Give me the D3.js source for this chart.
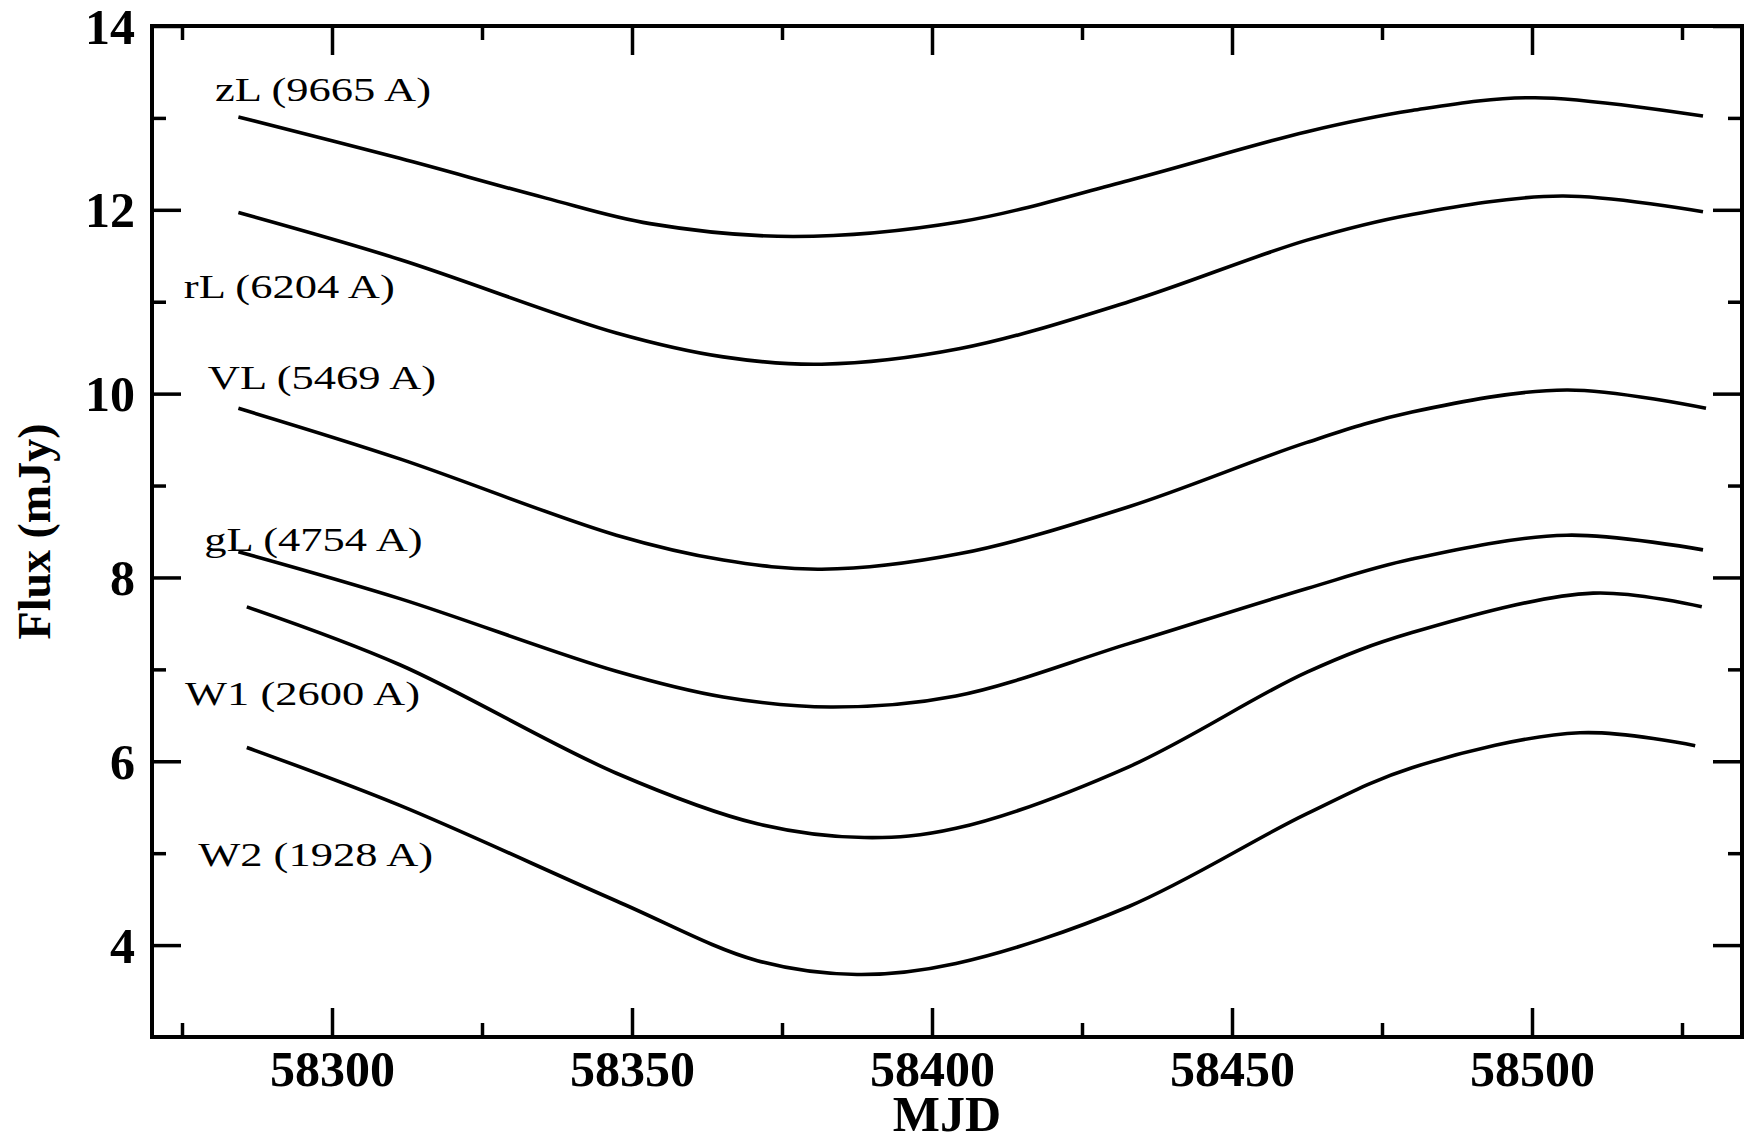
<!DOCTYPE html>
<html>
<head>
<meta charset="utf-8">
<script src="https://cdn.jsdelivr.net/npm/d3@7"></script>
<style>
  html, body { margin: 0; background: #fff; }
  svg { display: block; }
</style>
</head>
<body>
<div id="chart"></div>
<script>
// light curves (MJD, flux in mJy)
const zlMjd  = [58284.4, 58311.3, 58335.5, 58353.0, 58376.8, 58404.7, 58432.8, 58462.5, 58480.0, 58500.5, 58528.5];
const zlFlux = [13.01, 12.56, 12.13, 11.85, 11.71, 11.87, 12.32, 12.85, 13.08, 13.22, 13.02];

const rlMjd  = [58284.4, 58311.3, 58347.4, 58365.2, 58381.6, 58404.7, 58432.8, 58462.5, 58480.0, 58505.0, 58528.5];
const rlFlux = [11.97, 11.46, 10.66, 10.40, 10.32, 10.49, 11.00, 11.67, 11.95, 12.15, 11.98];

const vlMjd  = [58284.4, 58311.3, 58347.4, 58365.2, 58381.6, 58404.7, 58432.8, 58462.5, 58480.0, 58505.8, 58529.0];
const vlFlux = [9.84, 9.29, 8.46, 8.19, 8.09, 8.26, 8.77, 9.47, 9.80, 10.04, 9.84];

const glMjd  = [58284.4, 58311.3, 58347.4, 58365.2, 58383.1, 58404.0, 58432.8, 58462.5, 58480.0, 58505.8, 58528.5];
const glFlux = [8.28, 7.77, 6.98, 6.70, 6.59, 6.71, 7.28, 7.88, 8.20, 8.46, 8.30];

const w1Mjd  = [58285.8, 58311.3, 58347.4, 58370.9, 58388.7, 58404.0, 58432.8, 58462.5, 58480.0, 58510.2, 58528.3];
const w1Flux = [7.68, 7.05, 5.87, 5.32, 5.17, 5.27, 5.94, 6.97, 7.40, 7.83, 7.68];

const w2Mjd  = [58285.8, 58311.3, 58347.4, 58370.9, 58387.5, 58404.0, 58432.8, 58462.5, 58480.0, 58508.0, 58527.2];
const w2Flux = [6.15, 5.52, 4.48, 3.83, 3.68, 3.80, 4.42, 5.43, 5.93, 6.31, 6.17];

const seriesNames = ["zL (9665 A)", "rL (6204 A)", "VL (5469 A)", "gL (4754 A)", "W1 (2600 A)", "W2 (1928 A)"];
const labelMjd  = [58280.5, 58275.3, 58279.3, 58278.7, 58275.5, 58277.7];
const labelFlux = [13.18, 11.04, 10.05, 8.29, 6.61, 4.86];

const xMajorTicks = [58300, 58350, 58400, 58450, 58500];
const xMinorTicks = [58275, 58325, 58375, 58425, 58475, 58525];
const yMajorTicks = [4, 6, 8, 10, 12, 14];
const yMinorTicks = [5, 7, 9, 11, 13];

const series = [
  [zlMjd, zlFlux], [rlMjd, rlFlux], [vlMjd, vlFlux],
  [glMjd, glFlux], [w1Mjd, w1Flux], [w2Mjd, w2Flux]
].map(([m, f], i) => ({ name: seriesNames[i], points: m.map((d, j) => ({ mjd: d, flux: f[j] })) }));

const W = 1745, H = 1141;
const margin = { top: 26, right: 3, bottom: 104, left: 152 };
const width = W - margin.left - margin.right;
const height = H - margin.top - margin.bottom;
const serif = "'Liberation Serif', 'Times New Roman', serif";

const svg = d3.select("#chart").append("svg")
  .attr("width", W)
  .attr("height", H);

const g = svg.append("g")
  .attr("transform", `translate(${margin.left}, ${margin.top})`);

const x = d3.scaleLinear().domain([58270, 58535]).range([0, width]);
const y = d3.scaleLinear().domain([3, 14]).range([height, 0]);

const majorLen = 29, minorLen = 14;

// ticks on all four sides, pointing inwards
function addAxis(axis, transform, labels) {
  const a = g.append("g").attr("transform", transform).call(axis);
  a.select(".domain").remove();
  a.selectAll("line").attr("stroke", "#000").attr("stroke-width", 3.5);
  a.attr("font-family", serif);
  if (labels) {
    a.selectAll("text")
      .attr("font-size", 50)
      .attr("font-weight", "bold")
      .attr("fill", "#000");
  }
  return a;
}

addAxis(d3.axisBottom(x).tickValues(xMajorTicks).tickFormat(d3.format("d"))
  .tickSizeInner(-majorLen).tickSizeOuter(0).tickPadding(13), `translate(0, ${height})`, true);
addAxis(d3.axisBottom(x).tickValues(xMinorTicks).tickFormat("")
  .tickSizeInner(-minorLen).tickSizeOuter(0), `translate(0, ${height})`);
addAxis(d3.axisTop(x).tickValues(xMajorTicks).tickFormat("")
  .tickSizeInner(-majorLen).tickSizeOuter(0), "translate(0, 0)");
addAxis(d3.axisTop(x).tickValues(xMinorTicks).tickFormat("")
  .tickSizeInner(-minorLen).tickSizeOuter(0), "translate(0, 0)");

const yLab = addAxis(d3.axisLeft(y).tickValues(yMajorTicks).tickFormat(d3.format("d"))
  .tickSizeInner(-majorLen).tickSizeOuter(0).tickPadding(17), "translate(0, 0)", true);
yLab.selectAll("text").attr("dy", "0.34em");
addAxis(d3.axisLeft(y).tickValues(yMinorTicks).tickFormat("")
  .tickSizeInner(-minorLen).tickSizeOuter(0), "translate(0, 0)");
addAxis(d3.axisRight(y).tickValues(yMajorTicks).tickFormat("")
  .tickSizeInner(-majorLen).tickSizeOuter(0), `translate(${width}, 0)`);
addAxis(d3.axisRight(y).tickValues(yMinorTicks).tickFormat("")
  .tickSizeInner(-minorLen).tickSizeOuter(0), `translate(${width}, 0)`);

// frame
g.append("rect")
  .attr("x", 0).attr("y", 0)
  .attr("width", width).attr("height", height)
  .attr("fill", "none")
  .attr("stroke", "#000")
  .attr("stroke-width", 4);

const line = d3.line()
  .x(d => x(d.mjd))
  .y(d => y(d.flux))
  .curve(d3.curveCatmullRom.alpha(0.5));

g.selectAll(".lc")
  .data(series)
  .enter()
  .append("path")
  .attr("class", "lc")
  .attr("fill", "none")
  .attr("stroke", "#000")
  .attr("stroke-width", 3.6)
  .attr("d", d => line(d.points));

// band labels (stretched sideways like the original)
g.selectAll(".band")
  .data(seriesNames)
  .enter()
  .append("text")
  .attr("class", "band")
  .attr("transform", (d, i) => `translate(${x(labelMjd[i])}, ${y(labelFlux[i])}) scale(1.31, 1)`)
  .attr("font-family", serif)
  .attr("font-size", 34)
  .attr("fill", "#000")
  .text(d => d);

// axis titles
svg.append("text")
  .attr("x", margin.left + width / 2)
  .attr("y", 1131)
  .attr("text-anchor", "middle")
  .attr("font-family", serif)
  .attr("font-weight", "bold")
  .attr("font-size", 50)
  .text("MJD");

svg.append("text")
  .attr("transform", `translate(50, ${margin.top + height / 2}) rotate(-90)`)
  .attr("text-anchor", "middle")
  .attr("font-family", serif)
  .attr("font-weight", "bold")
  .attr("font-size", 46)
  .text("Flux (mJy)");
</script>
</body>
</html>
